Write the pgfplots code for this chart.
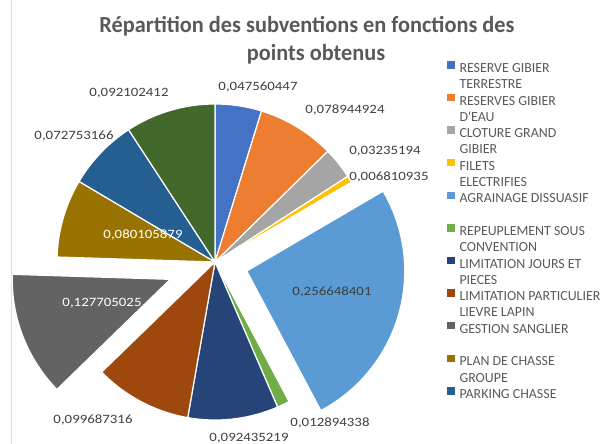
\documentclass[border=0pt]{standalone}
\usepackage{pgfplots}
\pgfplotsset{compat=1.18}
\usepackage{fontspec}
\setmainfont{Carlito}
\newfontfamily\titlefont{Carlito}[FakeStretch=0.97]
\newfontfamily\labfontfam{Carlito}[FakeStretch=1.17]
\newfontfamily\legfontfam{Carlito}
\newcommand\labfont{\labfontfam\fontsize{12.7}{14}\selectfont}
\newcommand\legfont{\legfontfam\fontsize{13.9}{16.3}\selectfont}
\definecolor{c1}{HTML}{4472C4}
\definecolor{c2}{HTML}{ED7D31}
\definecolor{c3}{HTML}{A5A5A5}
\definecolor{c4}{HTML}{FFC000}
\definecolor{c5}{HTML}{5B9BD5}
\definecolor{c6}{HTML}{70AD47}
\definecolor{c7}{HTML}{264478}
\definecolor{c8}{HTML}{9E480E}
\definecolor{c9}{HTML}{636363}
\definecolor{c10}{HTML}{997300}
\definecolor{c11}{HTML}{255E91}
\definecolor{c12}{HTML}{43682B}
\definecolor{tit}{HTML}{595959}
\definecolor{lab}{HTML}{404040}
\definecolor{leg}{HTML}{595959}
% pie geometry (pixel units): centre, radius
\def\pcx{215}\def\pcy{262}\def\prad{158}
\gdef\cum{0}
% #1 value, #2 colour, #3 explosion distance
\newcommand\slice[3]{%
  \pgfmathsetmacro\sa{\cum*360}%
  \pgfmathsetmacro\cumnew{\cum+#1}%
  \pgfmathsetmacro\ea{\cumnew*360}%
  \pgfmathsetmacro\ma{(\sa+\ea)/2}%
  \pgfmathsetmacro\ox{\pcx+#3*sin(\ma)}%
  \pgfmathsetmacro\oy{\pcy-#3*cos(\ma)}%
  \edef\temp{\noexpand\addplot[fill=#2, draw=white, line width=1.2pt, line join=round, mark=none, domain=\sa:\ea, samples=80]
    ({\ox+\prad*sin(x)},{\oy-\prad*cos(x)}) -- (axis cs:\ox,\oy) -- cycle;}%
  \temp
  \xdef\cum{\cumnew}%
}
\newcommand\contline[1]{\addlegendimage{draw=none, fill=none, legend image code/.code={\path[draw=none,fill=none] (0pt,0pt) (12.5pt,0pt);}}\addlegendentry{#1}}
\begin{document}
\begin{tikzpicture}
\begin{axis}[
  scale only axis, width=613pt, height=444pt,
  xmin=0, xmax=613, ymin=0, ymax=444, y dir=reverse,
  hide axis, clip=false,
  legend cell align=left,
  legend image code/.code={\fill[#1,draw=none] (0pt,0.5pt) rectangle (7.5pt,8pt); \path[draw=none] (12.5pt,0pt);},
  legend style={at={(axis cs:447,61)}, anchor=north west, draw=none, fill=none,
    font=\legfont, text=leg, row sep=0pt, column sep=0pt, inner sep=0pt, outer sep=0pt,
    nodes={inner sep=0pt, outer sep=0pt, text height=11.4pt, text depth=4.9pt}},
]
\draw[gray!25, line width=0.8pt] (axis cs:11,0) -- (axis cs:11,444);
\slice{0.047560447}{c1}{0}
\addlegendentry{RESERVE GIBIER}
\contline{TERRESTRE}
\slice{0.078944924}{c2}{0}
\addlegendentry{RESERVES GIBIER}
\contline{D'EAU}
\slice{0.03235194}{c3}{0}
\addlegendentry{CLOTURE GRAND}
\contline{GIBIER}
\slice{0.006810935}{c4}{0}
\addlegendentry{FILETS}
\contline{ELECTRIFIES}
\slice{0.256648401}{c5}{33}
\addlegendentry{AGRAINAGE DISSUASIF}
\contline{}
\slice{0.012894338}{c6}{0}
\addlegendentry{REPEUPLEMENT SOUS}
\contline{CONVENTION}
\slice{0.092435219}{c7}{0}
\addlegendentry{LIMITATION JOURS ET}
\contline{PIECES}
\slice{0.099687316}{c8}{0}
\addlegendentry{LIMITATION PARTICULIER}
\contline{LIEVRE LAPIN}
\slice{0.127705025}{c9}{48}
\addlegendentry{GESTION SANGLIER}
\contline{}
\slice{0.080105879}{c10}{0}
\addlegendentry{PLAN DE CHASSE}
\contline{GROUPE}
\slice{0.072753166}{c11}{0}
\addlegendentry{PARKING CHASSE}
\slice{0.092102412}{c12}{0}
% title
\node[font=\titlefont\bfseries\fontsize{23}{27}\selectfont, text=tit, anchor=base] at (axis cs:307,33) {Répartition des subventions en fonctions des};
\node[font=\titlefont\bfseries\fontsize{23}{27}\selectfont, text=tit, anchor=base] at (axis cs:316,60) {points obtenus};
% data labels
\node[font=\labfont, text=lab] at (axis cs:258,87) {0,047560447};
\node[font=\labfont, text=lab] at (axis cs:345,110) {0,078944924};
\node[font=\labfont, text=lab] at (axis cs:385,151) {0,03235194};
\node[font=\labfont, text=lab] at (axis cs:389,177) {0,006810935};
\node[font=\labfont, text=lab] at (axis cs:332,292) {0,256648401};
\node[font=\labfont, text=lab] at (axis cs:330,423) {0,012894338};
\node[font=\labfont, text=lab] at (axis cs:249,438) {0,092435219};
\node[font=\labfont, text=lab] at (axis cs:93,420) {0,099687316};
\node[font=\labfont, text=white] at (axis cs:102,303) {0,127705025};
\node[font=\labfont, text=white] at (axis cs:143,235) {0,080105879};
\node[font=\labfont, text=lab] at (axis cs:74,136) {0,072753166};
\node[font=\labfont, text=lab] at (axis cs:129,93) {0,092102412};
\end{axis}
\pgfresetboundingbox
\path (current axis.south west) rectangle (current axis.north east);
\end{tikzpicture}
\end{document}
